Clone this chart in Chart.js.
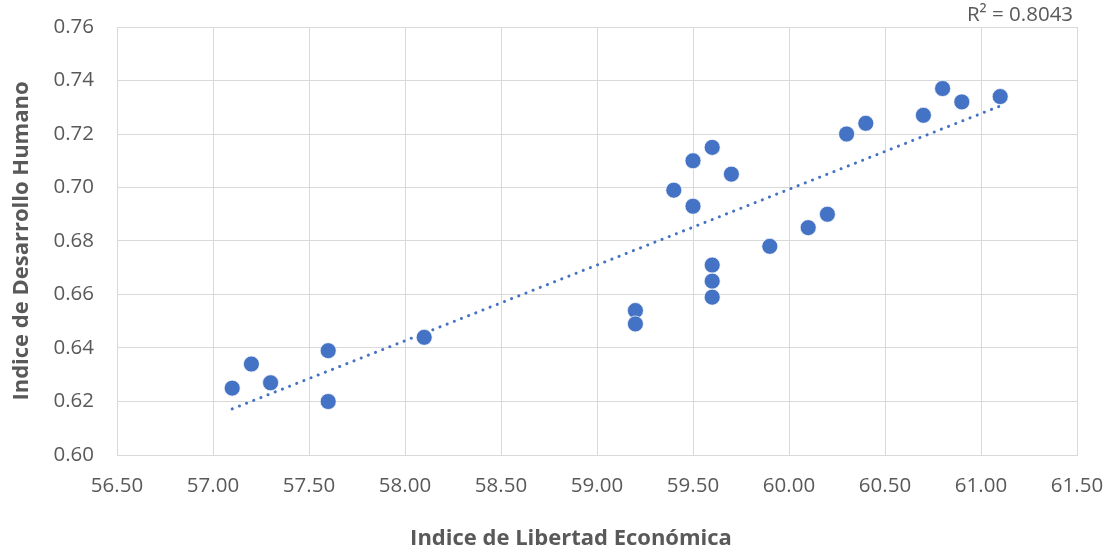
<!DOCTYPE html>
<html>
<head>
<meta charset="utf-8">
<script src="https://cdn.jsdelivr.net/npm/chart.js@4.4.1/dist/chart.umd.min.js"></script>
<style>
  html, body { margin: 0; padding: 0; background: #ffffff; }
  #wrap { width: 1110px; height: 552px; }
</style>
</head>
<body>
<div id="wrap"><canvas id="c" width="1110" height="552"></canvas></div>
<script>
// ---- Data ----
const libertad = [57.1, 57.2, 57.3, 57.6, 57.6, 58.1, 59.2, 59.2, 59.4, 59.5, 59.5, 59.6, 59.6, 59.6, 59.6, 59.7, 59.9, 60.1, 60.2, 60.3, 60.4, 60.7, 60.8, 60.9, 61.1];
const desarrollo = [0.625, 0.634, 0.627, 0.639, 0.620, 0.644, 0.654, 0.649, 0.699, 0.710, 0.693, 0.715, 0.671, 0.665, 0.659, 0.705, 0.678, 0.685, 0.690, 0.720, 0.724, 0.727, 0.737, 0.732, 0.734];
const xTitle = "Indice de Libertad Económica";
const yTitle = "Indice de Desarrollo Humano";
const r2Label = "R² = 0.8043";

const points = libertad.map((x, i) => ({ x: x, y: desarrollo[i] }));

// Linear (least squares) trendline through the data
const n = libertad.length;
const mx = libertad.reduce((a, b) => a + b, 0) / n;
const my = desarrollo.reduce((a, b) => a + b, 0) / n;
let sxy = 0, sxx = 0;
for (let i = 0; i < n; i++) { sxy += (libertad[i] - mx) * (desarrollo[i] - my); sxx += (libertad[i] - mx) ** 2; }
const slope = sxy / sxx, icpt = my - slope * mx;
const xMin = Math.min(...libertad), xMax = Math.max(...libertad);
const trend = [{ x: xMin, y: icpt + slope * xMin }, { x: xMax, y: icpt + slope * xMax }];

const FONT = "'Open Sans', Lato, sans-serif";
const TXT = '#595959';
const GRID = '#d9d9d9';

const textPlugin = {
  id: 'texts',
  afterDraw(chart) {
    const ctx = chart.ctx;
    ctx.save();
    ctx.fillStyle = TXT;
    ctx.textAlign = 'center';
    ctx.textBaseline = 'middle';
    ctx.font = "20.5px " + FONT;
    ctx.fillText(r2Label, 1020, 15);
    ctx.font = "bold 22px " + FONT;
    ctx.fillText(xTitle, 571, 539);
    ctx.restore();
  }
};

new Chart(document.getElementById('c'), {
  type: 'scatter',
  data: {
    datasets: [
      {
        label: 'trend',
        type: 'line',
        data: trend,
        borderColor: '#4472C4',
        borderWidth: 3,
        borderDash: [0.1, 7.6],
        borderCapStyle: 'round',
        pointRadius: 0,
        fill: false,
        order: 2
      },
      {
        label: 'datos',
        data: points,
        backgroundColor: '#4472C4',
        borderColor: 'rgba(255,255,255,0.7)',
        borderWidth: 1,
        pointRadius: 8,
        pointHoverRadius: 8,
        order: 1
      }
    ]
  },
  options: {
    responsive: false,
    animation: false,
    layout: { padding: { top: 27, right: 33, left: 0, bottom: 0 } },
    plugins: { legend: { display: false }, tooltip: { enabled: false } },
    scales: {
      x: {
        type: 'linear',
        min: 56.5, max: 61.5,
        afterFit(s) { s.height = 97; },
        ticks: { stepSize: 0.5, color: TXT, font: { family: FONT, size: 20.5 }, padding: 2,
                 callback: v => v.toFixed(2) },
        grid: { color: GRID, lineWidth: 1, drawTicks: true, tickLength: 17, tickColor: 'rgba(0,0,0,0)' },
        border: { color: GRID, width: 1 },
        title: { display: false }
      },
      y: {
        type: 'linear',
        min: 0.6, max: 0.76,
        afterFit(s) { s.width = 117; },
        ticks: { stepSize: 0.02, color: TXT, font: { family: FONT, size: 20.5 }, padding: 0,
                 callback: v => v.toFixed(2) },
        grid: { color: GRID, lineWidth: 1, drawTicks: true, tickLength: 23, tickColor: 'rgba(0,0,0,0)' },
        border: { color: GRID, width: 1 },
        title: { display: true, text: yTitle, color: TXT, font: { family: FONT, size: 22, weight: 'bold' },
                 padding: { top: 9, bottom: 0 } }
      }
    }
  },
  plugins: [textPlugin]
});
</script>
</body>
</html>
